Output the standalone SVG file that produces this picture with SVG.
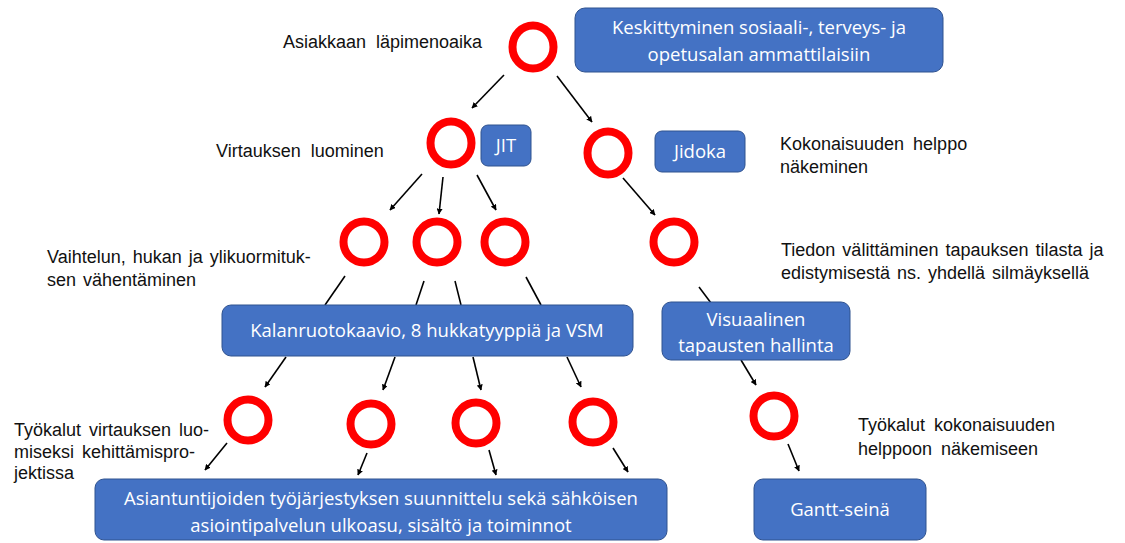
<svg xmlns="http://www.w3.org/2000/svg" width="1125" height="543" viewBox="0 0 1125 543">
  <style>
    .ring { fill: #fff; stroke: #ff0000; stroke-width: 8; }
    .box { fill: #4472c4; stroke: #2f528f; stroke-width: 1; }
    .btxt { font-family: "Open Sans", "Liberation Sans", sans-serif; font-size: 18.5px; fill: #fff; text-anchor: middle; }
    .lbl { font-family: "Liberation Sans", Arial, sans-serif; font-size: 18px; fill: #111; }
    .arr { stroke: #000; stroke-width: 1.6; fill: none; marker-end: url(#head); }
    .ln { stroke: #000; stroke-width: 1.6; fill: none; }
  </style>
  <defs>
    <marker id="head" viewBox="0 0 10 10" refX="9" refY="5" markerWidth="6" markerHeight="6" orient="auto" markerUnits="userSpaceOnUse">
      <path d="M0,0 L10,5 L0,10 z" fill="#000"/>
    </marker>
  </defs>
  <rect width="1125" height="543" fill="#fff"/>

  <!-- connectors -->
  <g id="connectors">
    <line class="arr" x1="504" y1="75" x2="472" y2="108"/>
    <line class="arr" x1="557" y1="76" x2="592" y2="122"/>
    <line class="arr" x1="422" y1="174" x2="390" y2="210"/>
    <line class="arr" x1="443" y1="177" x2="439" y2="214"/>
    <line class="arr" x1="477" y1="175" x2="496" y2="210"/>
    <line class="arr" x1="623" y1="178" x2="655" y2="215"/>
    <line class="ln" x1="345" y1="276" x2="325" y2="305"/>
    <line class="ln" x1="424" y1="281" x2="416" y2="305"/>
    <line class="ln" x1="455" y1="281" x2="461" y2="305"/>
    <line class="ln" x1="526" y1="277" x2="541" y2="305"/>
    <line class="ln" x1="699" y1="287" x2="711" y2="303"/>
    <line class="arr" x1="286" y1="357" x2="265" y2="387"/>
    <line class="arr" x1="395" y1="357" x2="383" y2="390"/>
    <line class="arr" x1="473" y1="357" x2="481" y2="390"/>
    <line class="arr" x1="567" y1="357" x2="581" y2="387"/>
    <line class="arr" x1="741" y1="360" x2="756" y2="385"/>
    <line class="arr" x1="227" y1="443" x2="205" y2="470"/>
    <line class="arr" x1="367" y1="453" x2="358" y2="475"/>
    <line class="arr" x1="489" y1="450" x2="496" y2="475"/>
    <line class="arr" x1="613" y1="448" x2="628" y2="472"/>
    <line class="arr" x1="788" y1="444" x2="799" y2="471"/>
  </g>

  <!-- level 1 -->
  <g id="n-asiakkaan">
    <text class="lbl" x="283" y="48" word-spacing="5">Asiakkaan läpimenoaika</text>
    <ellipse class="ring" cx="533" cy="47" rx="20.5" ry="21.5"/>
  </g>
  <g id="n-keskittyminen">
    <rect class="box" x="575" y="8" width="368" height="64" rx="10"/>
    <text class="btxt" x="759" y="34">Keskittyminen sosiaali-, terveys- ja</text>
    <text class="btxt" x="759" y="61">opetusalan ammattilaisiin</text>
  </g>

  <!-- level 2 -->
  <g id="n-virtaus">
    <text class="lbl" x="216" y="157" word-spacing="5">Virtauksen luominen</text>
    <ellipse class="ring" cx="451" cy="143" rx="20.5" ry="21.5"/>
  </g>
  <g id="n-jit">
    <rect class="box" x="481" y="125" width="50" height="41" rx="7"/>
    <text class="btxt" x="506" y="152">JIT</text>
  </g>
  <g id="n-kokonaisuus">
    <ellipse class="ring" cx="608" cy="153" rx="20.5" ry="21.5"/>
    <text class="lbl" x="780" y="150" word-spacing="4">Kokonaisuuden helppo</text>
    <text class="lbl" x="780" y="173">näkeminen</text>
  </g>
  <g id="n-jidoka">
    <rect class="box" x="655" y="131" width="90" height="41" rx="7"/>
    <text class="btxt" x="700" y="158">Jidoka</text>
  </g>

  <!-- level 3 -->
  <g id="n-vaihtelu">
    <text class="lbl" x="47" y="263" word-spacing="2">Vaihtelun, hukan ja ylikuormituk-</text>
    <text class="lbl" x="47" y="286" word-spacing="2">sen vähentäminen</text>
    <circle class="ring" cx="364" cy="242" r="20.5"/>
    <circle class="ring" cx="437" cy="242" r="20.5"/>
    <circle class="ring" cx="505" cy="242" r="20.5"/>
  </g>
  <g id="n-tiedon">
    <circle class="ring" cx="674" cy="242" r="20.5"/>
    <text class="lbl" x="781" y="256" word-spacing="2">Tiedon välittäminen tapauksen tilasta ja</text>
    <text class="lbl" x="781" y="279" word-spacing="2">edistymisestä ns. yhdellä silmäyksellä</text>
  </g>

  <!-- level 4 -->
  <g id="n-kalanruoto">
    <rect class="box" x="222" y="305" width="411" height="51" rx="9"/>
    <text class="btxt" x="427" y="337">Kalanruotokaavio, 8 hukkatyyppiä ja VSM</text>
  </g>
  <g id="n-visuaalinen">
    <rect class="box" x="662" y="302" width="188" height="58" rx="9"/>
    <text class="btxt" x="756" y="326">Visuaalinen</text>
    <text class="btxt" x="756" y="352">tapausten hallinta</text>
  </g>

  <!-- level 5 -->
  <g id="n-tyokalut-virtaus">
    <text class="lbl" x="14" y="436" word-spacing="3">Työkalut virtauksen luo-</text>
    <text class="lbl" x="14" y="458" word-spacing="3">miseksi kehittämispro-</text>
    <text class="lbl" x="14" y="479">jektissa</text>
    <circle class="ring" cx="248" cy="420" r="20.5"/>
    <circle class="ring" cx="371" cy="424" r="20.5"/>
    <circle class="ring" cx="476" cy="423" r="20.5"/>
    <circle class="ring" cx="593" cy="422" r="20.5"/>
  </g>
  <g id="n-tyokalut-kokonaisuus">
    <circle class="ring" cx="774" cy="416" r="20.5"/>
    <text class="lbl" x="858" y="431" word-spacing="4">Työkalut kokonaisuuden</text>
    <text class="lbl" x="858" y="455" word-spacing="4">helppoon näkemiseen</text>
  </g>

  <!-- level 6 -->
  <g id="n-asiantuntijat">
    <rect class="box" x="95" y="479" width="572" height="61" rx="9"/>
    <text class="btxt" x="381" y="505">Asiantuntijoiden työjärjestyksen suunnittelu sekä sähköisen</text>
    <text class="btxt" x="381" y="532">asiointipalvelun ulkoasu, sisältö ja toiminnot</text>
  </g>
  <g id="n-gantt">
    <rect class="box" x="754" y="479" width="172" height="61" rx="9"/>
    <text class="btxt" x="840" y="516">Gantt-seinä</text>
  </g>
</svg>
